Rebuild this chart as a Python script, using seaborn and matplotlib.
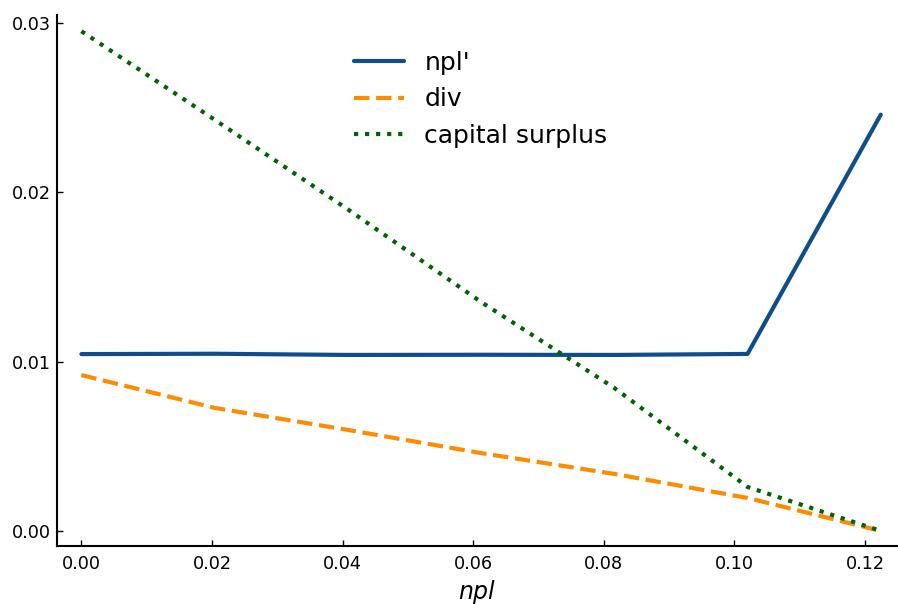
import pandas as pd
import matplotlib
matplotlib.use("Agg")
import matplotlib.pyplot as plt
import seaborn as sns

# values
npl = [0.0, 0.0204, 0.0408, 0.0612, 0.0816, 0.102, 0.1224]
npl_prime = [0.01045, 0.01047, 0.01040, 0.01041, 0.01040, 0.01046, 0.02460]
div = [0.00921, 0.00727, 0.00597, 0.00460, 0.00337, 0.00195, 0.0]
capital_surplus = [0.02953, 0.02430, 0.01900, 0.01353, 0.00845, 0.00260, 0.0]

df = pd.DataFrame({"npl": npl, "npl'": npl_prime, "div": div,
                   "capital surplus": capital_surplus})

sns.set_style("ticks")
plt.rcParams["font.family"] = ["DejaVu Sans"]
plt.rcParams["text.color"] = "black"

fig, ax = plt.subplots(figsize=(8.98, 6.04), dpi=100)
fig.subplots_adjust(left=0.063, right=0.999, bottom=0.096, top=0.975)

sns.lineplot(data=df, x="npl", y="npl'", ax=ax, color="#104E8B", lw=3,
             linestyle="-", label="npl'")
sns.lineplot(data=df, x="npl", y="div", ax=ax, color="#FF8C00", lw=3,
             linestyle="--", label="div")
sns.lineplot(data=df, x="npl", y="capital surplus", ax=ax, color="#006400", lw=3,
             linestyle=":", label="capital surplus")

ax.set_xlim(-0.0038, 0.1249)
ax.set_ylim(-0.00089, 0.03048)
ax.set_xticks([0.0, 0.02, 0.04, 0.06, 0.08, 0.10, 0.12])
ax.set_yticks([0.0, 0.01, 0.02, 0.03])
ax.xaxis.set_major_formatter(matplotlib.ticker.FormatStrFormatter("%.2f"))
ax.yaxis.set_major_formatter(matplotlib.ticker.FormatStrFormatter("%.2f"))
ax.tick_params(direction="in", labelsize=12.7, length=4, width=1, colors="black")
ax.tick_params(axis="x", pad=6.5)
ax.tick_params(axis="y", pad=4)

ax.set_xlabel("npl", fontsize=17, style="italic", color="black", labelpad=5)
ax.set_ylabel("")

sns.despine(ax=ax)
for s in ["left", "bottom"]:
    ax.spines[s].set_linewidth(1.5)
    ax.spines[s].set_color("black")

leg = ax.legend(loc="upper center", bbox_to_anchor=(0.505, 0.975), frameon=False,
                fontsize=18, handlelength=2.0)
for t in leg.get_texts():
    t.set_color("black")

plt.savefig("out.png", dpi=100)
plt.close()
